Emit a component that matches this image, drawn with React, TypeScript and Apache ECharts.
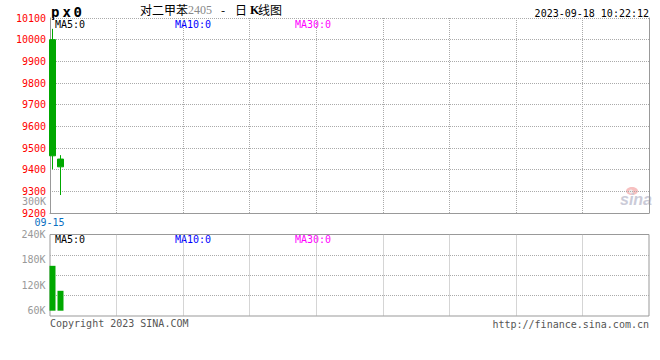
import React, { useEffect, useRef } from 'react';
import * as echarts from 'echarts';

const MONO = '"DejaVu Sans Mono", "Liberation Mono", monospace';
const CJK = '"Noto Sans CJK SC", sans-serif';

// ---- data ----
const dates = ['09-15', '09-18'];
const openPrices = [10000, 9449];
const closePrices = [9464, 9413];
const lowPrices = [9402, 9283];
const highPrices = [10050, 9467];
const volumes = [166000, 107000];
const priceMin = 9200;
const priceMax = 10100;
const priceStep = 100;
const volMin = 60000;
const volMax = 240000;
const volStep = 60000;
const slotCount = 75;

const GREEN = '#00a800';
const GRID_LINE = { type: 'dotted' as const, color: '#aaaaaa', width: 1 };
const BORDER = '#999999';

function buildOption() {
  const cats: string[] = [];
  for (let i = 0; i < slotCount; i++) cats.push(i < dates.length ? dates[i] : ' ' + i);
  const kData = dates.map((_, i) => [openPrices[i], closePrices[i], lowPrices[i], highPrices[i]]);

  const txt = (text: string, x: number, y: number, fill: string, font: string, align = 'left', lineHeight?: number) => ({
    type: 'text',
    x,
    y,
    silent: true,
    style: {
      text,
      fill,
      font,
      align,
      textAlign: align,
      verticalAlign: 'middle',
      textVerticalAlign: 'middle',
      ...(lineHeight ? { lineHeight } : {}),
    },
  });

  return {
    animation: false,
    backgroundColor: '#ffffff',
    grid: [
      { left: 50, top: 18, width: 599, height: 195 },
      { left: 48.5, top: 18, width: 600, height: 195 },
      { left: 50, top: 234.5, width: 599, height: 81.5, show: true, borderColor: BORDER, borderWidth: 1, backgroundColor: 'transparent' },
      { left: 48.5, top: 234.5, width: 600, height: 76.2 },
    ],
    xAxis: [
      {
        gridIndex: 0, type: 'value', min: 0, max: 9, interval: 1,
        axisLine: { show: true, onZero: false, lineStyle: { color: BORDER } },
        axisTick: { show: false }, axisLabel: { show: false },
        splitLine: { show: true, showMinLine: false, showMaxLine: false, lineStyle: GRID_LINE },
      },
      {
        gridIndex: 1, type: 'category', data: cats, boundaryGap: true,
        axisLine: { show: false }, axisTick: { show: false },
        splitLine: { show: false },
        axisLabel: {
          show: true,
          interval: (index: number) => index === 0,
          color: '#0a6fc2', fontFamily: MONO, fontSize: 10, margin: 4,
          padding: [0, 6, 0, 0],
        },
      },
      {
        gridIndex: 2, type: 'value', min: 0, max: 9, interval: 1,
        axisLine: { show: false }, axisTick: { show: false }, axisLabel: { show: false },
        splitLine: { show: true, showMinLine: false, showMaxLine: false, lineStyle: GRID_LINE },
      },
      {
        gridIndex: 3, type: 'category', data: cats, boundaryGap: true, show: false,
      },
    ],
    yAxis: [
      {
        gridIndex: 0, type: 'value', min: priceMin, max: priceMax, interval: priceStep,
        axisLine: { show: true, onZero: false, lineStyle: { color: BORDER } },
        axisTick: { show: false },
        axisLabel: {
          color: '#ff0000', fontFamily: MONO, fontSize: 10, margin: 4, lineHeight: 8, padding: [0, 0, 4, 0],
          formatter: (v: number) => String(v),
        },
        splitLine: { show: true, showMinLine: false, showMaxLine: true, lineStyle: GRID_LINE },
      },
      {
        gridIndex: 0, type: 'value', position: 'right', min: priceMin, max: priceMax,
        axisLine: { show: true, onZero: false, lineStyle: { color: BORDER } },
        axisTick: { show: false }, axisLabel: { show: false }, splitLine: { show: false },
      },
      { gridIndex: 1, type: 'value', min: priceMin, max: priceMax, show: false, splitLine: { show: false } },
      {
        gridIndex: 2, type: 'value', min: 0, max: 4, interval: 1,
        axisLine: { show: false }, axisTick: { show: false }, axisLabel: { show: false },
        splitLine: { show: true, showMinLine: false, showMaxLine: false, lineStyle: GRID_LINE },
      },
      {
        gridIndex: 3, type: 'value', min: volMin, max: volMax, interval: volStep,
        axisLine: { show: false }, axisTick: { show: false }, splitLine: { show: false },
        axisLabel: {
          color: '#999999', fontFamily: MONO, fontSize: 10, margin: 3,
          formatter: (v: number) => v / 1000 + 'K',
        },
      },
    ],
    series: [
      {
        type: 'candlestick',
        xAxisIndex: 1,
        yAxisIndex: 2,
        data: kData,
        barWidth: 6,
        itemStyle: { color: '#ff0000', color0: GREEN, borderColor: '#ff0000', borderColor0: GREEN, borderWidth: 1 },
      },
      {
        type: 'bar',
        xAxisIndex: 3,
        yAxisIndex: 4,
        data: volumes,
        barWidth: 6,
        itemStyle: { color: GREEN },
      },
    ],
    graphic: [
      txt('p', 51, 11.5, '#000', `bold 14px ${MONO}`),
      txt('x', 62.5, 11.5, '#000', `bold 14px ${MONO}`),
      txt('0', 73.5, 11.5, '#000', `bold 14px ${MONO}`),
      txt('对二甲苯', 140, 9.5, '#000', `12px ${CJK}`),
      txt('2405', 188, 10, '#888888', `12px "Liberation Serif", serif`),
      txt('-', 221, 9.5, '#000', `12px ${CJK}`),
      txt('日', 235, 9.5, '#000', `12px ${CJK}`),
      txt('K', 250, 10, '#000', `bold 12px "Liberation Serif", serif`),
      txt('线图', 258, 9.5, '#000', `12px ${CJK}`),
      txt('2023-09-18 10:22:12', 649, 13, '#000', `10px ${MONO}`, 'right'),
      txt('MA5:0', 55, 24, '#000', `10px ${MONO}`),
      txt('MA10:0', 175, 24, '#0000ff', `10px ${MONO}`),
      txt('MA30:0', 295, 24, '#ff00ff', `10px ${MONO}`),
      txt('MA5:0', 55, 239.5, '#000', `10px ${MONO}`),
      txt('MA10:0', 175, 239.5, '#0000ff', `10px ${MONO}`),
      txt('MA30:0', 295, 239.5, '#ff00ff', `10px ${MONO}`),
      txt('300K', 46, 201, '#999999', `10px ${MONO}`, 'right', 6),
      txt('Copyright 2023 SINA.COM', 50, 323.5, '#555555', `10px ${MONO}`),
      txt('http://finance.sina.com.cn', 649, 324, '#555555', `10px ${MONO}`, 'right'),
      { type: 'ellipse', silent: true, shape: { cx: 632, cy: 191, rx: 6, ry: 4 }, style: { fill: '#f7c0c0' } },
      { type: 'circle', silent: true, shape: { cx: 631, cy: 191.5, r: 2 }, style: { fill: '#eeeeee' } },
      txt('sina', 620, 199.5, '#cbcbd8', `italic bold 16px "Liberation Sans", sans-serif`),
    ],
  };
}

export default function App() {
  const ref = useRef<HTMLDivElement>(null);
  useEffect(() => {
    if (!ref.current) return;
    const chart = echarts.init(ref.current, null, { renderer: 'svg' });
    chart.setOption(buildOption() as any);
    return () => chart.dispose();
  }, []);
  return (
    <div
      ref={ref}
      style={{ position: 'fixed', left: 0, top: 0, width: 660, height: 360, background: '#ffffff' }}
    />
  );
}
